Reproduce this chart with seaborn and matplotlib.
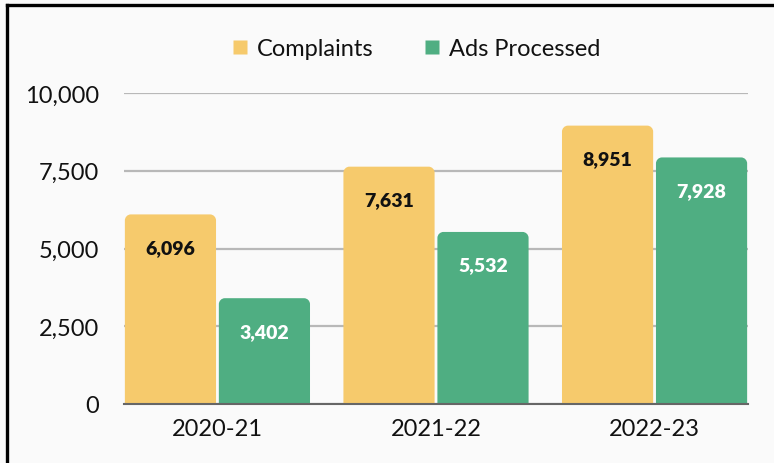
import matplotlib
matplotlib.use("Agg")
import matplotlib.pyplot as plt
import seaborn as sns
import pandas as pd
import numpy as np
from matplotlib.path import Path
from matplotlib.patches import PathPatch, Rectangle
from matplotlib.lines import Line2D
from matplotlib.ticker import FuncFormatter

years = ["2020-21", "2021-22", "2022-23"]
complaints = [6096, 7631, 8951]
ads_processed = [3402, 5532, 7928]
series_names = ["Complaints", "Ads Processed"]
colors = ["#F6CA6C", "#4FAE82"]
yticks = [0, 2500, 5000, 7500, 10000]

df = pd.DataFrame({
    "Year": years * 2,
    "Series": [series_names[0]] * 3 + [series_names[1]] * 3,
    "Value": complaints + ads_processed,
})

sns.set_theme(style="white")
plt.rcParams["font.family"] = ["Lato", "DejaVu Sans"]

W, H = 774, 464
fig = plt.figure(figsize=(W / 100, H / 100), dpi=100, facecolor="#FAFAFA")
ax = fig.add_axes([124 / W, 1 - 405 / H, (748 - 124) / W, (405 - 94) / H])
ax.set_facecolor("#FAFAFA")

sns.barplot(data=df, x="Year", y="Value", hue="Series", palette=colors,
            width=0.86, gap=0.03, ax=ax, saturation=1, legend=False,
            edgecolor="none", linewidth=0, zorder=3)

ax.set_xlim(-0.4275, 2.4275)
ax.set_ylim(0, 10000)
ax.set_yticks(yticks)
ax.yaxis.set_major_formatter(FuncFormatter(lambda v, p: f"{int(v):,}"))
ax.set_xlabel("")
ax.set_ylabel("")
for s in ["top", "right", "left"]:
    ax.spines[s].set_visible(False)
ax.spines["bottom"].set_color("#666666")
ax.spines["bottom"].set_linewidth(1.5)
ax.spines["bottom"].set_zorder(5)
ax.grid(axis="y", color="#B8B8B8", linewidth=1.6, zorder=0)
ax.tick_params(axis="both", length=0, labelsize=17, labelcolor="#111111")
ax.tick_params(axis="y", pad=18)
ax.tick_params(axis="x", pad=10)

# rounded top corners
fig.canvas.draw()
px_x = 1.0 / (ax.transData.transform((1, 0))[0] - ax.transData.transform((0, 0))[0])
px_y = 1.0 / (ax.transData.transform((0, 1))[1] - ax.transData.transform((0, 0))[1])
r = 6
rx, ry = r * px_x, r * px_y
bars = [p for p in ax.patches if isinstance(p, Rectangle)]
info = []
for p in bars:
    x0, y0 = p.get_x(), p.get_y()
    w, h = p.get_width(), p.get_height()
    fc = p.get_facecolor()
    p.set_visible(False)
    k = 0.5523
    verts = [
        (x0, y0), (x0, y0 + h - ry),
        (x0, y0 + h - ry + k * ry), (x0 + rx - k * rx, y0 + h), (x0 + rx, y0 + h),
        (x0 + w - rx, y0 + h),
        (x0 + w - rx + k * rx, y0 + h), (x0 + w, y0 + h - ry + k * ry), (x0 + w, y0 + h - ry),
        (x0 + w, y0), (x0, y0),
    ]
    codes = [Path.MOVETO, Path.LINETO,
             Path.CURVE4, Path.CURVE4, Path.CURVE4,
             Path.LINETO,
             Path.CURVE4, Path.CURVE4, Path.CURVE4,
             Path.LINETO, Path.CLOSEPOLY]
    ax.add_patch(PathPatch(Path(verts, codes), facecolor=fc, edgecolor="none", zorder=3))
    info.append((x0 + w / 2, y0 + h, fc))

for cx, top, fc in info:
    is_green = fc[1] > 0.6 and fc[0] < 0.5
    ax.annotate(f"{int(round(top)):,}", (cx, top), xytext=(0, -33), textcoords="offset pixels",
                ha="center", va="center", fontsize=14, fontweight="heavy",
                color="white" if is_green else "#111111", zorder=6)

# legend
handles = [Line2D([], [], marker="s", linestyle="none", markersize=10.5,
                  markerfacecolor=c, markeredgecolor="none") for c in colors]
fig.legend(handles, series_names, loc="center", bbox_to_anchor=(413 / W, 1 - 50 / H),
           ncol=2, frameon=False, fontsize=17, handletextpad=0.1, handlelength=1.2,
           columnspacing=1.9, labelcolor="#111111")

# frame lines (left and top)
fig.add_artist(Line2D([7 / W, 7 / W], [0, 1 - 6 / H], color="black", linewidth=2.4,
                      transform=fig.transFigure, solid_capstyle="projecting"))
fig.add_artist(Line2D([7 / W, 1], [1 - 6 / H, 1 - 6 / H], color="black", linewidth=2.4,
                      transform=fig.transFigure, solid_capstyle="projecting"))

fig.savefig("out.png", dpi=100, facecolor=fig.get_facecolor())
